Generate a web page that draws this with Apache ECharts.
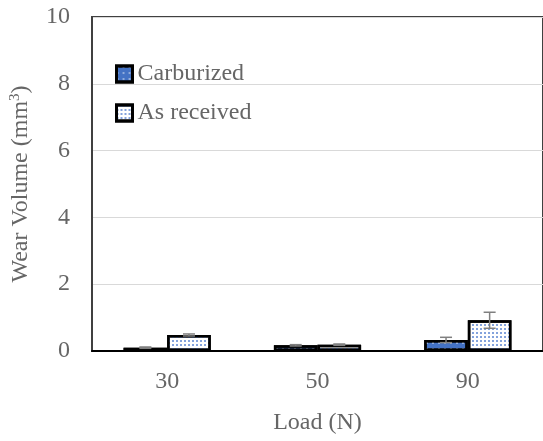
<!DOCTYPE html>
<html>
<head>
<meta charset="utf-8">
<script src="https://cdn.jsdelivr.net/npm/echarts@6/dist/echarts.min.js"></script>
<style>html,body{margin:0;padding:0;background:#fff;}#c{width:543px;height:441px;}</style>
</head>
<body>
<div id="c"></div>
<script>
const categories = ['30', '50', '90'];
const carburized = [0.10, 0.17, 0.33];
const carburizedErr = [0.02, 0.02, 0.08];
const asReceived = [0.48, 0.19, 0.92];
const asReceivedErr = [0.03, 0.02, 0.24];
const yTicks = [0, 2, 4, 6, 8, 10];

const FONT = '"Liberation Serif", "DejaVu Serif", serif';
const TXT = '#666666';
const FS = 24;
const chart = echarts.init(document.getElementById('c'), null, {renderer: 'canvas'});

function errSeries(vals, errs, offsetIdx) {
  return {
    type: 'custom',
    z: 10,
    silent: true,
    data: vals.map((v, i) => [i, v, errs[i]]),
    renderItem: function (params, api) {
      const ci = api.value(0);
      const v = api.value(1), e = api.value(2);
      const bw = api.size([1, 0])[0] * 0.29;
      const cx = api.coord([ci, 0])[0] + (offsetIdx === 0 ? -bw / 2 : bw / 2);
      const top = api.coord([ci, v + e])[1];
      const bot = api.coord([ci, v - e])[1];
      const cap = 6;
      const st = {stroke: '#7f7f7f', lineWidth: 1.5};
      return {
        type: 'group',
        children: [
          {type: 'line', shape: {x1: cx, y1: top, x2: cx, y2: bot}, style: st},
          {type: 'line', shape: {x1: cx - cap, y1: top, x2: cx + cap, y2: top}, style: st},
          {type: 'line', shape: {x1: cx - cap, y1: bot, x2: cx + cap, y2: bot}, style: st}
        ]
      };
    }
  };
}

chart.setOption({
  animation: false,
  backgroundColor: '#fff',
  grid: {left: 92, right: -3, top: 17, bottom: 90, show: true, borderColor: '#404040', borderWidth: 2},
  legend: {
    orient: 'vertical',
    left: 115,
    top: 62,
    padding: 0,
    itemGap: 15,
    itemWidth: 16,
    itemHeight: 16,
    icon: 'rect',
    itemStyle: {borderWidth: 3, borderColor: '#000'},
    textStyle: {fontFamily: FONT, fontSize: FS, color: TXT},
    data: ['Carburized', 'As received']
  },
  xAxis: {
    type: 'category',
    data: categories,
    name: 'Load (N)',
    nameLocation: 'middle',
    nameGap: 60,
    nameTextStyle: {fontFamily: FONT, fontSize: FS, color: TXT},
    axisLine: {lineStyle: {color: '#000', width: 2}},
    axisTick: {show: false},
    axisLabel: {fontFamily: FONT, fontSize: FS, color: TXT, margin: 19}
  },
  yAxis: {
    type: 'value',
    min: 0,
    max: 10,
    interval: 2,
    name: '{a|Wear Volume (mm}{s|3}{a|)}',
    nameLocation: 'middle',
    nameGap: 59,
    nameTextStyle: {
      fontFamily: FONT, fontSize: FS, color: TXT,
      rich: {
        a: {fontFamily: FONT, fontSize: FS, color: TXT},
        s: {fontFamily: FONT, fontSize: 15, color: TXT, verticalAlign: 'top', padding: [0, 0, 10, 0]}
      }
    },
    axisLine: {show: true, lineStyle: {color: '#404040', width: 2}},
    axisTick: {show: false},
    splitLine: {lineStyle: {color: '#d9d9d9', width: 1}},
    axisLabel: {
      fontFamily: FONT, fontSize: FS, color: TXT, margin: 22,
      formatter: v => yTicks.includes(v) ? String(v) : ''
    }
  },
  series: [
    {
      name: 'Carburized',
      type: 'bar',
      data: carburized,
      barWidth: '29%',
      barGap: '0%',
      itemStyle: {
        color: '#4472c4',
        borderColor: '#000',
        borderWidth: 2.5,
        decal: {symbol: 'circle', symbolSize: 0.8, color: 'rgba(255,255,255,0.95)', dashArrayX: [[2, 4]], dashArrayY: [2, 4], rotation: 0}
      }
    },
    {
      name: 'As received',
      type: 'bar',
      data: asReceived,
      barWidth: '29%',
      barGap: '0%',
      itemStyle: {
        color: '#ffffff',
        borderColor: '#000',
        borderWidth: 2.5,
        decal: {symbol: 'circle', symbolSize: 1, color: '#5b85d0', dashArrayX: [[2, 2]], dashArrayY: [2, 2], rotation: 0}
      }
    },
    errSeries(carburized, carburizedErr, 0),
    errSeries(asReceived, asReceivedErr, 1)
  ]
});
</script>
</body>
</html>
